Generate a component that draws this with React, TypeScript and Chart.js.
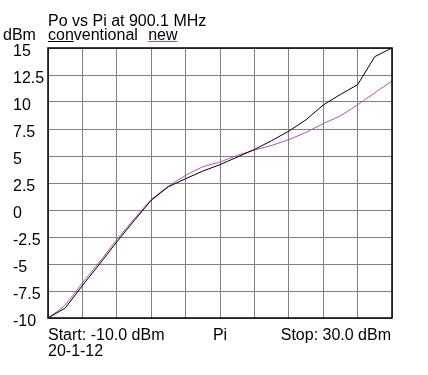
import React, { useEffect, useRef } from "react";
import { Chart, registerables } from "chart.js";

Chart.register(...registerables);

const inputPower = [-10, -8, -6, -4, -2, 0, 2, 4, 6, 8, 10, 12, 14, 16, 18, 20, 22, 24, 26, 28, 30];
const conventional = [-10, -9.08, -7.0, -5.0, -2.95, -1.0, 0.9, 2.15, 2.9, 3.6, 4.2, 4.9, 5.6, 6.42, 7.3, 8.35, 9.72, 10.7, 11.6, 14.2, 15];
const newDesign = [-10, -8.8, -6.75, -4.8, -2.75, -0.85, 0.95, 2.2, 3.2, 4.0, 4.45, 5.05, 5.55, 5.98, 6.52, 7.19, 7.99, 8.73, 9.75, 10.85, 11.95];
const seriesNames = ["conventional", "new"];
const seriesColors = ["#000000", "#c040c8"];
const yTicks = [-10, -7.5, -5, -2.5, 0, 2.5, 5, 7.5, 10, 12.5, 15];

const titleText = "Po vs Pi at 900.1 MHz";
const yUnit = "dBm";
const startText = "Start: -10.0 dBm";
const stopText = "Stop: 30.0 dBm";
const xName = "Pi";
const dateText = "20-1-12";

const FONT = "16px 'Liberation Sans', Arial, sans-serif";

const textPlugin = {
  id: "textPlugin",
  afterDatasetsDraw(chart: any) {
    const ctx = chart.ctx;
    const a = chart.chartArea;
    ctx.save();
    // frame
    ctx.strokeStyle = "#000";
    ctx.lineWidth = 1.5;
    ctx.strokeRect(a.left, a.top, a.right - a.left, a.bottom - a.top);
    ctx.font = FONT;
    ctx.fillStyle = "#000";
    ctx.textBaseline = "alphabetic";
    ctx.textAlign = "left";
    ctx.fillText(titleText, a.left, 26);
    ctx.fillText(yUnit, 3, 39.5);
    // legend
    const ds = chart.data.datasets;
    let x = a.left;
    ds.forEach((d: any, i: number) => {
      ctx.fillStyle = "#000";
      ctx.fillText(d.label, x, 39.5);
      const w = ctx.measureText(d.label).width;
      const uw = i === 0 ? ctx.measureText(d.label.slice(0, 3)).width : w;
      ctx.strokeStyle = d.borderColor;
      ctx.lineWidth = 1;
      ctx.beginPath();
      ctx.moveTo(x, 41.5);
      ctx.lineTo(x + uw, 41.5);
      ctx.stroke();
      x += w + ctx.measureText("   ").width - 3;
    });
    // bottom texts
    ctx.fillStyle = "#000";
    ctx.textAlign = "left";
    ctx.fillText(startText, a.left, 340);
    ctx.fillText(dateText, a.left, 356);
    ctx.textAlign = "center";
    ctx.fillText(xName, (a.left + a.right) / 2, 340);
    ctx.textAlign = "right";
    ctx.fillText(stopText, a.right - 1, 340);
    ctx.restore();
  },
};

export default function App() {
  const ref = useRef<HTMLCanvasElement>(null);
  useEffect(() => {
    if (!ref.current) return;
    const chart = new Chart(ref.current, {
      type: "line",
      data: {
        labels: inputPower,
        datasets: [
          {
            label: seriesNames[0],
            data: inputPower.map((x, i) => ({ x, y: conventional[i] })),
            borderColor: seriesColors[0],
            borderWidth: 1,
            pointRadius: 0,
            tension: 0,
            fill: false,
          },
          {
            label: seriesNames[1],
            data: inputPower.map((x, i) => ({ x, y: newDesign[i] })),
            borderColor: seriesColors[1],
            borderWidth: 1,
            pointRadius: 0,
            tension: 0.2,
            fill: false,
          },
        ],
      },
      options: {
        animation: false,
        responsive: false,
        maintainAspectRatio: false,
        devicePixelRatio: 1,
        layout: { padding: { left: 13, top: 48, right: 36, bottom: 57 } },
        plugins: { legend: { display: false }, tooltip: { enabled: false }, title: { display: false } },
        scales: {
          x: {
            type: "linear",
            min: -10,
            max: 30,
            ticks: { display: false, stepSize: 4 },
            grid: { color: "#808080", lineWidth: 1, drawTicks: false },
            border: { display: false },
          },
          y: {
            type: "linear",
            min: -10,
            max: 15,
            afterBuildTicks: (s: any) => {
              s.ticks = yTicks.map((v) => ({ value: v }));
            },
            afterFit: (s: any) => {
              s.width = 35;
            },
            ticks: {
              color: "#000",
              font: { family: "'Liberation Sans', Arial, sans-serif", size: 16 },
              crossAlign: "far",
              labelOffset: 3.5,
              padding: 0,
              callback: (v: any) => String(v),
            },
            grid: { color: "#808080", lineWidth: 1, drawTicks: false },
            border: { display: false },
          },
        },
      },
      plugins: [textPlugin],
    });
    return () => chart.destroy();
  }, []);
  return (
    <div style={{ position: "fixed", left: 0, top: 0, width: 428, height: 375, background: "#fff" }}>
      <canvas ref={ref} width={428} height={375} style={{ width: 428, height: 375, display: "block" }} />
    </div>
  );
}
